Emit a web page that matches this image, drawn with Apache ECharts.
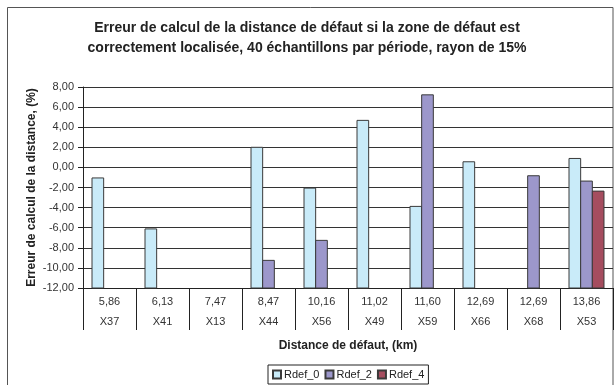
<!DOCTYPE html>
<html>
<head>
<meta charset="utf-8">
<script src="https://cdn.jsdelivr.net/npm/echarts@6/dist/echarts.min.js"></script>
<style>
  html, body { margin: 0; padding: 0; background: #fff; }
  #chart { width: 614px; height: 385px; }
</style>
</head>
<body>
<div id="chart"></div>
<script>
// Fault-distance categories: distance (km) and fault point name
const distances = ['5,86', '6,13', '7,47', '8,47', '10,16', '11,02', '11,60', '12,69', '12,69', '13,86'];
const points = ['X37', 'X41', 'X13', 'X44', 'X56', 'X49', 'X59', 'X66', 'X68', 'X53'];

// Distance computation error (%) per radius setting; null = no bar
const rdef0 = [-1.05, -6.12, null, 2.0, -2.06, 4.68, -3.88, 0.56, null, 0.89];
const rdef2 = [null, null, null, -9.25, -7.26, null, 7.22, null, -0.83, -1.36];
const rdef4 = [null, null, null, null, null, null, null, null, null, -2.36];

const seriesNames = ['Rdef_0', 'Rdef_2', 'Rdef_4'];
const seriesValues = [rdef0, rdef2, rdef4];
const seriesColors = ['#c9ebf9', '#9c97cb', '#a54d5f'];

// Value axis ticks
const yMin = -12, yMax = 8, yStep = 2;

const FONT = '"Liberation Sans", Arial, sans-serif';
const BAR_RATIO = 0.22;

// Bars grow up from the bottom of the value axis (Excel style),
// so they are drawn as custom rects spanning from yMin to the value.
function barRenderer(slot, color) {
  return function (params, api) {
    const v = api.value(1);
    if (v == null || isNaN(v)) return null;
    const cat = api.value(0);
    const top = api.coord([cat, v]);
    const base = api.coord([cat, yMin]);
    const band = api.size([1, 0])[0];
    const w = band * BAR_RATIO;
    const x = top[0] + (slot - 1) * w - w / 2;
    return {
      type: 'rect',
      shape: { x: x, y: top[1], width: w, height: base[1] - top[1] },
      style: { fill: color, stroke: '#3a3a3a', lineWidth: 1 }
    };
  };
}

const series = seriesNames.map(function (name, s) {
  const data = [];
  seriesValues[s].forEach(function (v, i) {
    if (v !== null) data.push([i, v]);
  });
  return {
    name: name,
    type: 'custom',
    renderItem: barRenderer(s, seriesColors[s]),
    encode: { x: 0, y: 1 },
    itemStyle: { color: seriesColors[s], borderColor: '#3a3a3a', borderWidth: 1 },
    data: data
  };
});

const chart = echarts.init(document.getElementById('chart'), null, { renderer: 'canvas' });
chart.setOption({
  animation: false,
  backgroundColor: '#fff',
  textStyle: { fontFamily: FONT },
  title: {
    text: 'Erreur de calcul de la distance de défaut si la zone de défaut est\ncorrectement localisée, 40 échantillons par période, rayon de 15%',
    left: 'center',
    top: 13,
    textStyle: { fontFamily: FONT, fontSize: 14, fontWeight: 'bold', color: '#222', lineHeight: 20 }
  },
  graphic: [{
    type: 'rect',
    shape: { x: 7.5, y: 7.5, width: 605.5, height: 420 },
    style: { fill: 'none', stroke: '#555', lineWidth: 1 },
    silent: true,
    z: -1
  }],
  legend: {
    data: seriesNames,
    left: 268,
    top: 365,
    icon: 'rect',
    itemWidth: 8,
    itemHeight: 8,
    itemGap: 5,
    padding: [4, 4, 4, 4],
    borderColor: '#222',
    borderWidth: 1,
    borderRadius: 0,
    textStyle: { fontFamily: FONT, fontSize: 11, color: '#222', padding: [0, 0, 0, -2] }
  },
  grid: { left: 83, top: 87, width: 530, height: 201 },
  xAxis: {
    type: 'category',
    data: points,
    boundaryGap: true,
    axisLine: { show: true, onZero: false, lineStyle: { color: '#222', width: 1 } },
    axisTick: { show: true, interval: 0, length: 42, lineStyle: { color: '#222' } },
    axisLabel: {
      interval: 0,
      margin: 4,
      fontFamily: FONT,
      fontSize: 11,
      color: '#333',
      lineHeight: 20,
      formatter: function (value, idx) { return distances[idx] + '\n' + value; }
    },
    name: 'Distance de défaut, (km)',
    nameLocation: 'middle',
    nameGap: 52,
    nameMoveOverlap: false,
    nameTextStyle: { fontFamily: FONT, fontSize: 12, fontWeight: 'bold', color: '#222' }
  },
  yAxis: {
    type: 'value',
    min: yMin,
    max: yMax,
    interval: yStep,
    axisLine: { show: true, lineStyle: { color: '#222', width: 1 } },
    axisTick: { show: true, length: 5, lineStyle: { color: '#222' } },
    splitLine: { show: true, lineStyle: { color: '#333', width: 1 } },
    axisLabel: {
      margin: 9,
      fontFamily: FONT,
      fontSize: 11,
      color: '#333',
      formatter: function (v) { return v.toFixed(2).replace('.', ','); }
    },
    name: 'Erreur de calcul de la distance, (%)',
    nameLocation: 'middle',
    nameGap: 45,
    nameMoveOverlap: false,
    nameTextStyle: { fontFamily: FONT, fontSize: 12, fontWeight: 'bold', color: '#222' }
  },
  series: series
});
</script>
</body>
</html>
